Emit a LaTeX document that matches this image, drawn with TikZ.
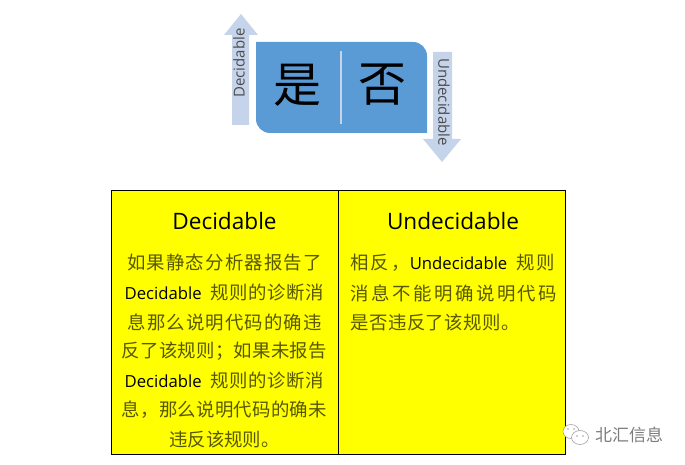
\documentclass[tikz,border=0pt]{standalone}
\usepackage{fontspec}
\setmainfont{Open Sans}
\newfontfamily\cjk{Noto Sans CJK SC}
\definecolor{boxblue}{RGB}{91,155,213}
\definecolor{arrowblue}{RGB}{197,212,235}
\definecolor{cellyellow}{RGB}{255,255,0}
\definecolor{bodyolive}{RGB}{88,88,0}
\definecolor{markgray}{RGB}{125,125,125}
\tikzset{
  cellbox/.style={draw=black,line width=1pt,fill=cellyellow,minimum width=227pt,minimum height=264pt,anchor=north west,inner sep=0pt,outer sep=0pt},
  headtext/.style={font=\fontsize{22.6}{26}\selectfont,text=black,inner sep=0pt},
  bodytext/.style={font=\fontsize{18.4}{22}\selectfont,text=bodyolive,inner sep=0pt},
  bigchar/.style={font=\cjk\fontsize{48}{52}\selectfont,text=black,inner sep=0pt},
  sidetext/.style={font=\fontsize{15}{17}\selectfont,text=black!70,inner sep=0pt},
}
\newcommand{\lat}[1]{{\normalfont\color{black}\fontsize{16.7}{18}\selectfont #1}}
\newcommand{\cjksp}[1]{\cjk\addfontfeature{LetterSpace=#1}}
\begin{document}
\begin{tikzpicture}[x=1pt,y=-1pt]
\useasboundingbox (0,0) rectangle (685,465);
% top shape
\fill[boxblue] (256,42) [rounded corners=14pt] -- (427,42) [sharp corners] -- (427,133) [rounded corners=14pt] -- (256,133) [sharp corners] -- cycle;
\draw[arrowblue,line width=1.2pt] (341,51) -- (341,124);
\node[bigchar] (yes) at (297,85) {是};
\node[bigchar] (no) at (382,85) {否};
% arrows
\fill[arrowblue] (232,125) -- (232,35) -- (224,35) -- (241,14) -- (258,35) -- (249,35) -- (249,125) -- cycle;
\fill[arrowblue] (433,52) -- (452,52) -- (452,139) -- (461,139) -- (442,162) -- (423,139) -- (433,139) -- cycle;
\node[sidetext,rotate=90] (up) at (239,63) {Decidable};
\node[sidetext,rotate=-90] (down) at (444,102) {Undecidable};
% table
\node[cellbox] (left) at (111.5,190.5) {};
\node[cellbox] (right) at (338.5,190.5) {};
\node[headtext] (lefthead) at (224.5,221) {Decidable};
\node[headtext] (righthead) at (453,221) {Undecidable};
\foreach\i/\y/\t in {1/263/{\cjksp{6.5}如果静态分析器报告了},
  2/293/{\lat{Decidable}\hspace{9pt}\cjksp{3.5}规则的诊断消},
  3/322/{\cjksp{6}息那么说明代码的确违},
  4/351/{\cjksp{1.5}反了该规则；如果未报告},
  5/381/{\lat{Decidable}\hspace{9pt}\cjksp{3.5}规则的诊断消},
  6/410/{\cjksp{1.5}息，那么说明代码的确未},
  7/439/{\cjksp{0}违反该规则。}}
{
  \node[bodytext] (l\i) at (224.5,\y) {\t};
}
\foreach\i/\y/\t in {1/263/{\cjksp{12}相反，\lat{Undecidable}\hspace{9pt}\cjksp{10}规则},
  2/293/{\cjksp{14}消息不能明确说明代码},
  3/322/{\cjksp{3}是否违反了该规则。}}
{
  \node[bodytext,anchor=west] (r\i) at (350,\y) {\t};
}
% watermark
\begin{scope}[markgray!70,line width=0.6pt]
  \draw[fill=white] (571,431.5) ellipse (8pt and 7pt);
  \draw[fill=white] (580,437.5) ellipse (8.5pt and 7pt);
  \foreach\x/\y in {568/429,574/429,577/436,583/436}
    \fill (\x,\y) circle (0.9pt);
\end{scope}
\node[font=\cjk\fontsize{17}{20}\selectfont,text=markgray,inner sep=0pt] (mark) at (629,435) {北汇信息};
\end{tikzpicture}
\end{document}
